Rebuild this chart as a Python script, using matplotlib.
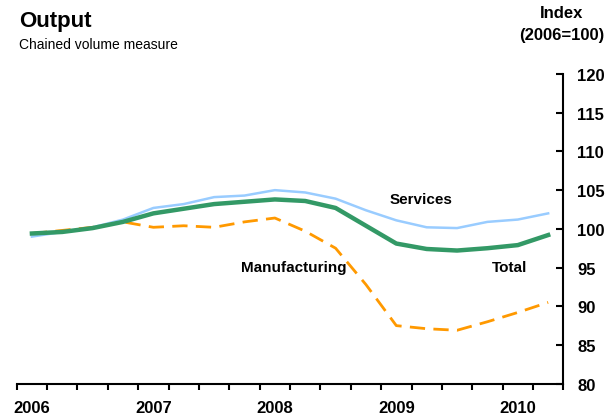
import numpy as np
import matplotlib.pyplot as plt

plt.rcParams['font.family'] = ['Liberation Sans', 'DejaVu Sans']

# quarterly output index, 2006 Q1 to 2010 Q2 (2006=100)
quarters = ['2006 Q1', '2006 Q2', '2006 Q3', '2006 Q4',
            '2007 Q1', '2007 Q2', '2007 Q3', '2007 Q4',
            '2008 Q1', '2008 Q2', '2008 Q3', '2008 Q4',
            '2009 Q1', '2009 Q2', '2009 Q3', '2009 Q4',
            '2010 Q1', '2010 Q2']
services = [99.0, 99.6, 100.2, 101.2, 102.7, 103.2, 104.1, 104.3, 105.0,
            104.7, 103.9, 102.4, 101.1, 100.2, 100.1, 100.9, 101.2, 102.0]
manufacturing = [99.4, 99.8, 100.2, 100.9, 100.2, 100.4, 100.2, 100.9, 101.4,
                 99.7, 97.5, 92.8, 87.5, 87.1, 86.9, 88.0, 89.2, 90.5]
total = [99.4, 99.6, 100.1, 100.9, 102.0, 102.6, 103.2, 103.5, 103.8,
         103.6, 102.7, 100.4, 98.1, 97.4, 97.2, 97.5, 97.9, 99.2]
year_labels = ['2006', '2007', '2008', '2009', '2010']

x = np.arange(len(quarters))

fig = plt.figure(figsize=(6.15, 4.14), dpi=100)
ax = fig.add_axes([0.0272, 0.0708, 0.8888, 0.7480])

ax.plot(x, services, color='#99ccff', lw=1.8, zorder=2)
ax.plot(x, manufacturing, color='#ff9900', lw=2.0, dashes=(5.5, 3), zorder=3)
ax.plot(x, total, color='#339966', lw=3.2, zorder=4)

ax.set_xlim(-0.5, len(quarters) - 0.5)
ax.set_ylim(80, 120)

for side in ('left', 'top'):
    ax.spines[side].set_visible(False)
for side in ('bottom', 'right'):
    ax.spines[side].set_linewidth(1.5)
    ax.spines[side].set_color('black')

ax.yaxis.tick_right()
ax.set_yticks(np.arange(80, 121, 5))
ax.tick_params(axis='y', direction='in', length=5, width=1.5, pad=10,
               labelsize=12)
for lab in ax.get_yticklabels():
    lab.set_fontweight('bold')

# quarter boundaries as ticks, years labelled on the first quarter
ax.set_xticks(np.arange(-0.5, len(quarters)))
ax.set_xticklabels([])
ax.set_xticks(x[::4], minor=True)
ax.set_xticklabels(year_labels, minor=True, fontsize=12, fontweight='bold')
ax.tick_params(axis='x', which='major', direction='out', length=4.5, width=1.5)
ax.tick_params(axis='x', which='minor', length=0, pad=12)

ax.text(12.83, 103.9, 'Services', ha='center', va='center',
        fontsize=11, fontweight='bold')
ax.text(8.61, 95.1, 'Manufacturing', ha='center', va='center',
        fontsize=11, fontweight='bold')
ax.text(15.74, 95.1, 'Total', ha='center', va='center',
        fontsize=11, fontweight='bold')

fig.text(19 / 615, 1 - 27 / 414, 'Output', fontsize=16, fontweight='bold',
         ha='left', va='baseline')
fig.text(19 / 615, 1 - 49 / 414, 'Chained volume measure', fontsize=10,
         ha='left', va='baseline')
fig.text(562 / 615, 1 - 14 / 414, 'Index', fontsize=12, fontweight='bold',
         ha='center', va='center')
fig.text(562 / 615, 1 - 36 / 414, '(2006=100)', fontsize=12,
         fontweight='bold', ha='center', va='center')

fig.savefig('out.png', dpi=100)
